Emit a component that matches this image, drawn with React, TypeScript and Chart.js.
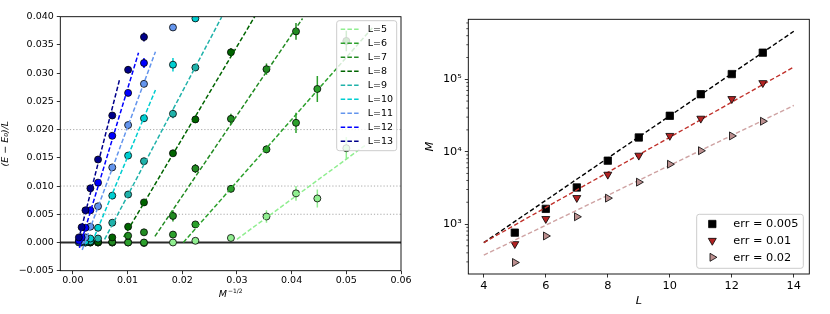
import React, { useEffect, useRef } from "react";
import { Chart, registerables } from "chart.js";

Chart.register(...registerables);

const FONT = "'DejaVu Sans', sans-serif";

// ---------------- Left panel: (E - E0)/L versus M^(-1/2) ----------------
const M_INV_SQRT = [0.0011, 0.0016, 0.0023, 0.0032, 0.0046, 0.0072, 0.0101, 0.013, 0.0183, 0.0224, 0.0289, 0.0354, 0.0408, 0.0447, 0.05];
const SYSTEM_SIZES = [5, 6, 7, 8, 9, 10, 11, 12, 13];
const SIZE_COLORS = ["#90ee90", "#2ca02c", "#228b22", "#006400", "#20b2aa", "#00ced1", "#6495ed", "#0000ff", "#00008b"];

const GAP_L5 = [null, null, null, null, null, 0.0, 0.0, -0.0001, 0.0, 0.0003, 0.0008, 0.0046, 0.0087, 0.0078, 0.0167];
const GAP_L6 = [null, null, null, null, 0.0, 0.0, 0.0, 0.0, 0.0014, 0.0032, 0.0095, 0.0165, 0.0212, 0.0272, 0.0357];
const GAP_L7 = [null, null, null, 0.0, 0.0, 0.0001, 0.0012, 0.0018, 0.0047, 0.0131, 0.0219, 0.0307, 0.0374, null, null];
const GAP_L8 = [null, null, 0.0, 0.0, 0.0001, 0.0009, 0.0028, 0.0071, 0.0158, 0.0218, 0.0337, null, null, null, null];
const GAP_L9 = [null, 0.0, 0.0, 0.0002, 0.0007, 0.0035, 0.0085, 0.0144, 0.0228, 0.031, null, null, null, null, null];
const GAP_L10 = [0.0, 0.0001, 0.0002, 0.0007, 0.0026, 0.0083, 0.0154, 0.022, 0.0315, 0.0397, null, null, null, null, null];
const GAP_L11 = [0.0001, 0.0002, 0.0009, 0.0028, 0.0064, 0.0133, 0.0208, 0.0281, 0.0381, null, null, null, null, null, null];
const GAP_L12 = [0.0003, 0.0009, 0.0026, 0.0057, 0.0106, 0.0189, 0.0265, 0.0318, null, null, null, null, null, null, null];
const GAP_L13 = [0.0009, 0.0027, 0.0057, 0.0096, 0.0147, 0.0225, 0.0306, 0.0364, null, null, null, null, null, null, null];

const ERR_L5 = [null, null, null, null, null, 0.0002, 0.0002, 0.0002, 0.0003, 0.0003, 0.0004, 0.0011, 0.0013, 0.0016, 0.002];
const ERR_L6 = [null, null, null, null, 0.0002, 0.0002, 0.0002, 0.0002, 0.0004, 0.0005, 0.0006, 0.0007, 0.0018, 0.0023, 0.0018];
const ERR_L7 = [null, null, null, 0.0002, 0.0002, 0.0002, 0.0003, 0.0003, 0.001, 0.0008, 0.0009, 0.001, 0.0015, null, null];
const ERR_L8 = [null, null, 0.0002, 0.0002, 0.0002, 0.0002, 0.0003, 0.0004, 0.0005, 0.0006, 0.0007, null, null, null, null];
const ERR_L9 = [null, 0.0002, 0.0002, 0.0002, 0.0002, 0.0003, 0.0003, 0.0004, 0.0008, 0.0006, null, null, null, null, null];
const ERR_L10 = [0.0002, 0.0002, 0.0002, 0.0002, 0.0003, 0.0003, 0.0004, 0.0006, 0.0012, 0.0006, null, null, null, null, null];
const ERR_L11 = [0.0002, 0.0002, 0.0002, 0.0002, 0.0003, 0.0003, 0.0004, 0.0004, 0.0003, null, null, null, null, null, null];
const ERR_L12 = [0.0002, 0.0002, 0.0002, 0.0003, 0.0003, 0.0004, 0.0005, 0.0009, null, null, null, null, null, null, null];
const ERR_L13 = [0.0002, 0.0002, 0.0003, 0.0003, 0.0004, 0.0004, 0.0006, 0.0008, null, null, null, null, null, null, null];

// linear fits y = slope * (x - x0), drawn over [from, to]
const FIT_SLOPE = [0.71, 1.1, 1.43, 1.63, 1.84, 2.33, 2.62, 3.2, 3.78];
const FIT_X0 = [0.0292, 0.0202, 0.01425, 0.0087, 0.0055, 0.0035, 0.0022, 0.0015, 0.0009];
const FIT_FROM = [0.03, 0.0202, 0.015, 0.0093, 0.0058, 0.004, 0.0017, 0.0012, 0.001];
const FIT_TO = [0.0537, 0.055, 0.042, 0.0333, 0.0272, 0.0151, 0.0151, 0.012, 0.0086];

const LEFT_X_TICKS = [0, 0.01, 0.02, 0.03, 0.04, 0.05, 0.06];
const LEFT_Y_TICKS = [-0.005, 0, 0.005, 0.01, 0.015, 0.02, 0.025, 0.03, 0.035, 0.04];
const REF_LINES = [0.005, 0.01, 0.02];

// ---------------- Right panel: M versus L ----------------
const R_SIZES = [5, 6, 7, 8, 9, 10, 11, 12, 13];
const M_ERR_005 = [760, 1620, 3200, 7500, 15700, 31300, 62200, 118000, 233000];
const M_ERR_01 = [531, 1180, 2300, 4830, 8850, 16600, 28700, 53600, 89000];
const M_ERR_02 = [294, 684, 1260, 2280, 3790, 6700, 10300, 16500, 26300];
const ERR_LABELS = ["err = 0.005", "err = 0.01", "err = 0.02"];
const FIT_LOG_INTERCEPT = [1.575, 1.773, 1.743];
const FIT_LOG_SLOPE = [0.292, 0.2426, 0.2068];
const FIT_L_SPAN = [4, 14];
const R_X_TICKS = [4, 6, 8, 10, 12, 14];
const R_Y_DECADES = [1000, 10000, 100000];
const R_Y_LABELS = ["10\u00b3", "10\u2074", "10\u2075"];

const GAPS = [GAP_L5, GAP_L6, GAP_L7, GAP_L8, GAP_L9, GAP_L10, GAP_L11, GAP_L12, GAP_L13];
const ERRS = [ERR_L5, ERR_L6, ERR_L7, ERR_L8, ERR_L9, ERR_L10, ERR_L11, ERR_L12, ERR_L13];

function fmtLeftY(v: number) {
  if (Math.abs(v) < 1e-12) return "0.000";
  return (v < 0 ? "\u2212" : "") + Math.abs(v).toFixed(3);
}

function clipArea(ctx: any, a: any) {
  ctx.beginPath();
  ctx.rect(a.left, a.top, a.right - a.left, a.bottom - a.top);
  ctx.clip();
}

const leftDecor = {
  id: "leftDecor",
  beforeDatasetsDraw(chart: any) {
    const { ctx, chartArea: a } = chart;
    const y = chart.scales.y;
    ctx.save();
    ctx.strokeStyle = "#a8a8a8";
    ctx.lineWidth = 1;
    ctx.setLineDash([1.2, 2]);
    REF_LINES.forEach((v) => {
      const py = y.getPixelForValue(v);
      ctx.beginPath();
      ctx.moveTo(a.left, py);
      ctx.lineTo(a.right, py);
      ctx.stroke();
    });
    ctx.setLineDash([]);
    ctx.strokeStyle = "#2a2a2a";
    ctx.lineWidth = 2;
    const p0 = y.getPixelForValue(0);
    ctx.beginPath();
    ctx.moveTo(a.left, p0);
    ctx.lineTo(a.right, p0);
    ctx.stroke();
    ctx.restore();
  },
  beforeDatasetDraw(chart: any, args: any) {
    const ds = chart.data.datasets[args.index];
    if (!ds.errors) return;
    const { ctx, chartArea: a } = chart;
    const xs = chart.scales.x;
    const ys = chart.scales.y;
    ctx.save();
    clipArea(ctx, a);
    ctx.strokeStyle = ds.errColor;
    ctx.lineWidth = 1.5;
    ds.data.forEach((p: any, k: number) => {
      const e = ds.errors[k];
      if (!e) return;
      const px = xs.getPixelForValue(p.x);
      ctx.beginPath();
      ctx.moveTo(px, ys.getPixelForValue(p.y - e));
      ctx.lineTo(px, ys.getPixelForValue(p.y + e));
      ctx.stroke();
    });
    ctx.restore();
  },
  afterDatasetsDraw(chart: any) {
    const { ctx, chartArea: a } = chart;
    ctx.save();
    ctx.strokeStyle = "#000";
    ctx.lineWidth = 0.9;
    ctx.strokeRect(a.left, a.top, a.right - a.left, a.bottom - a.top);
    ctx.restore();
  },
  afterDraw(chart: any) {
    const { ctx, chartArea: a } = chart;
    ctx.save();
    // legend
    const w = 60;
    const h = 130;
    const bx = a.right - 4.3 - w;
    const by = a.top + 4;
    ctx.beginPath();
    if (ctx.roundRect) ctx.roundRect(bx, by, w, h, 2.5);
    else ctx.rect(bx, by, w, h);
    ctx.fillStyle = "rgba(255,255,255,0.8)";
    ctx.fill();
    ctx.strokeStyle = "#cccccc";
    ctx.lineWidth = 1;
    ctx.stroke();
    ctx.font = `9.5px ${FONT}`;
    ctx.textBaseline = "middle";
    ctx.textAlign = "left";
    SYSTEM_SIZES.forEach((L, i) => {
      const ry = by + 8.6 + i * 14;
      ctx.strokeStyle = SIZE_COLORS[i];
      ctx.lineWidth = 1.5;
      ctx.setLineDash([4.5, 2.2]);
      ctx.beginPath();
      ctx.moveTo(bx + 4, ry);
      ctx.lineTo(bx + 24, ry);
      ctx.stroke();
      ctx.setLineDash([]);
      ctx.fillStyle = "#000";
      ctx.fillText(`L=${L}`, bx + 31, ry + 0.5);
    });
    // x title M^{-1/2}
    const main = "M";
    const sup = "\u22121/2";
    ctx.font = `italic 9.5px ${FONT}`;
    const wm = ctx.measureText(main).width;
    ctx.font = `6px ${FONT}`;
    const ws = ctx.measureText(sup).width;
    const cx = (a.left + a.right) / 2;
    const x0 = cx - (wm + ws + 1) / 2;
    const ty = 295;
    ctx.fillStyle = "#000";
    ctx.textBaseline = "middle";
    ctx.font = `italic 9.5px ${FONT}`;
    ctx.fillText(main, x0, ty);
    ctx.font = `6px ${FONT}`;
    ctx.fillText(sup, x0 + wm + 1, ty - 4);
    ctx.restore();
  },
};

function drawMarker(ctx: any, kind: string, x: number, y: number, r: number, fill: string) {
  ctx.beginPath();
  if (kind === "rect") {
    const s = Math.SQRT1_2 * r;
    ctx.rect(x - s, y - s, 2 * s, 2 * s);
  } else if (kind === "down") {
    const k = r * Math.sin(Math.PI / 3);
    ctx.moveTo(x, y + r);
    ctx.lineTo(x - k, y - r / 2);
    ctx.lineTo(x + k, y - r / 2);
    ctx.closePath();
  } else {
    const k = r * Math.sin(Math.PI / 3);
    ctx.moveTo(x + r, y);
    ctx.lineTo(x - r / 2, y - k);
    ctx.lineTo(x - r / 2, y + k);
    ctx.closePath();
  }
  ctx.fillStyle = fill;
  ctx.fill();
  ctx.strokeStyle = "#000";
  ctx.lineWidth = 0.8;
  ctx.stroke();
}

const MARKER_KINDS = ["rect", "down", "right"];
const MARKER_FILLS = ["#000000", "#b22222", "#bc8f8f"];
const LINE_COLORS = ["#000000", "#c0302a", "#cfa3a3"];
const MARKER_RADII = [5.2, 4.6, 4.6];

const rightDecor = {
  id: "rightDecor",
  afterDatasetsDraw(chart: any) {
    const { ctx, chartArea: a } = chart;
    const y = chart.scales.y;
    ctx.save();
    ctx.strokeStyle = "#000";
    ctx.lineWidth = 0.9;
    ctx.strokeRect(a.left, a.top, a.right - a.left, a.bottom - a.top);
    // minor ticks on log axis
    ctx.lineWidth = 0.7;
    y.ticks.forEach((t: any) => {
      if (R_Y_DECADES.includes(t.value)) return;
      const py = y.getPixelForValue(t.value);
      if (py < a.top || py > a.bottom) return;
      ctx.beginPath();
      ctx.moveTo(a.left, py);
      ctx.lineTo(a.left - 2, py);
      ctx.stroke();
    });
    ctx.restore();
  },
  afterDraw(chart: any) {
    const { ctx, chartArea: a } = chart;
    ctx.save();
    const w = 106.6;
    const h = 54;
    const bx = a.right - 6 - w;
    const by = a.bottom - 5.7 - h;
    ctx.beginPath();
    if (ctx.roundRect) ctx.roundRect(bx, by, w, h, 2.5);
    else ctx.rect(bx, by, w, h);
    ctx.fillStyle = "rgba(255,255,255,0.8)";
    ctx.fill();
    ctx.strokeStyle = "#cccccc";
    ctx.lineWidth = 1;
    ctx.stroke();
    ctx.font = `11.3px ${FONT}`;
    ctx.textBaseline = "middle";
    ctx.textAlign = "left";
    ERR_LABELS.forEach((lab, i) => {
      const ry = by + 9.7 + i * 16.65;
      drawMarker(ctx, MARKER_KINDS[i], bx + 15.6, ry, MARKER_RADII[i], MARKER_FILLS[i]);
      ctx.fillStyle = "#000";
      ctx.fillText(lab, bx + 36.6, ry + 0.5);
    });
    ctx.restore();
  },
};

function leftConfig(): any {
  const datasets: any[] = [];
  SYSTEM_SIZES.forEach((L, i) => {
    const pts: any[] = [];
    const errs: any[] = [];
    M_INV_SQRT.forEach((x, j) => {
      const v = GAPS[i][j];
      if (v === null || v === undefined) return;
      pts.push({ x, y: v });
      errs.push(ERRS[i][j]);
    });
    datasets.push({
      type: "scatter",
      label: `L=${L}`,
      data: pts,
      errors: errs,
      errColor: SIZE_COLORS[i],
      pointStyle: "circle",
      pointRadius: 3.5,
      pointBackgroundColor: SIZE_COLORS[i],
      pointBorderColor: "#000",
      pointBorderWidth: 0.8,
      order: 100 - 2 * i,
    });
    const yAt = (x: number) => FIT_SLOPE[i] * (x - FIT_X0[i]);
    datasets.push({
      type: "line",
      label: `fit L=${L}`,
      data: [
        { x: FIT_FROM[i], y: yAt(FIT_FROM[i]) },
        { x: FIT_TO[i], y: yAt(FIT_TO[i]) },
      ],
      borderColor: SIZE_COLORS[i],
      borderWidth: 1.5,
      borderDash: [4.5, 2.2],
      pointRadius: 0,
      fill: false,
      tension: 0,
      order: 99 - 2 * i,
    });
  });
  const tickFont = { family: FONT, size: 9.5 };
  return {
    type: "scatter",
    data: { datasets },
    options: {
      responsive: false,
      animation: false,
      events: [],
      layout: { padding: { left: 0, top: 16.7, right: 19, bottom: 0 } },
      plugins: { legend: { display: false }, tooltip: { enabled: false } },
      scales: {
        x: {
          type: "linear",
          min: -0.0023,
          max: 0.06,
          afterBuildTicks: (s: any) => {
            s.ticks = LEFT_X_TICKS.map((v) => ({ value: v }));
          },
          afterFit: (s: any) => {
            s.height = 43.3;
          },
          ticks: {
            callback: (v: any) => Number(v).toFixed(2),
            font: tickFont,
            color: "#000",
            padding: 0.5,
            maxRotation: 0,
            autoSkip: false,
          },
          grid: { display: true, drawOnChartArea: false, drawTicks: true, tickLength: 3.5, tickColor: "#000", tickWidth: 0.8 },
          border: { display: false },
        },
        y: {
          type: "linear",
          min: -0.005,
          max: 0.04,
          afterBuildTicks: (s: any) => {
            s.ticks = LEFT_Y_TICKS.map((v) => ({ value: v }));
          },
          afterFit: (s: any) => {
            s.width = 60.3;
          },
          ticks: {
            callback: (v: any) => fmtLeftY(Number(v)),
            font: tickFont,
            color: "#000",
            padding: 3,
            autoSkip: false,
          },
          grid: { display: true, drawOnChartArea: false, drawTicks: true, tickLength: 3.5, tickColor: "#000", tickWidth: 0.8 },
          border: { display: false },
          title: {
            display: true,
            text: "(E \u2212 E\u2080)/L",
            font: { family: FONT, size: 9.5, style: "italic" },
            color: "#000",
            padding: 0,
          },
        },
      },
    },
    plugins: [leftDecor],
  };
}

function rightConfig(): any {
  const series = [M_ERR_005, M_ERR_01, M_ERR_02];
  const rotations = [0, 180, 90];
  const styles = ["rect", "triangle", "triangle"];
  const datasets: any[] = [];
  series.forEach((ms, i) => {
    datasets.push({
      type: "scatter",
      label: ERR_LABELS[i],
      data: R_SIZES.map((L, j) => ({ x: L, y: ms[j] })),
      pointStyle: styles[i],
      pointRotation: rotations[i],
      pointRadius: MARKER_RADII[i],
      pointBackgroundColor: MARKER_FILLS[i],
      pointBorderColor: "#000",
      pointBorderWidth: 0.8,
      order: 20 - 2 * i,
    });
    datasets.push({
      type: "line",
      label: `fit ${ERR_LABELS[i]}`,
      data: FIT_L_SPAN.map((L) => ({ x: L, y: Math.pow(10, FIT_LOG_INTERCEPT[i] + FIT_LOG_SLOPE[i] * L) })),
      borderColor: LINE_COLORS[i],
      borderWidth: 1.4,
      borderDash: [4.5, 2.5],
      pointRadius: 0,
      fill: false,
      tension: 0,
      order: 21 - 2 * i,
    });
  });
  const tickFont = { family: FONT, size: 11.3 };
  const yTicks: number[] = [];
  [100, 1000, 10000, 100000].forEach((d) => {
    for (let k = 1; k <= 9; k++) {
      const v = d * k;
      if (v >= 204 && v <= 674000) yTicks.push(v);
    }
  });
  return {
    type: "scatter",
    data: { datasets },
    options: {
      responsive: false,
      animation: false,
      events: [],
      layout: { padding: { left: 0, top: 19.3, right: 20.7, bottom: 0 } },
      plugins: { legend: { display: false }, tooltip: { enabled: false } },
      scales: {
        x: {
          type: "linear",
          min: 3.5,
          max: 14.5,
          afterBuildTicks: (s: any) => {
            s.ticks = R_X_TICKS.map((v) => ({ value: v }));
          },
          afterFit: (s: any) => {
            s.height = 40;
          },
          ticks: { callback: (v: any) => String(v), font: tickFont, color: "#000", padding: 1.7, maxRotation: 0, autoSkip: false },
          grid: { display: true, drawOnChartArea: false, drawTicks: true, tickLength: 3.5, tickColor: "#000", tickWidth: 0.8 },
          border: { display: false },
          title: {
            display: true,
            text: "L",
            font: { family: FONT, size: 11.3, style: "italic" },
            color: "#000",
            padding: { top: 0, bottom: 6.5 },
          },
        },
        y: {
          type: "logarithmic",
          min: 204,
          max: 674000,
          afterBuildTicks: (s: any) => {
            s.ticks = yTicks.map((v) => ({ value: v, major: R_Y_DECADES.includes(v) }));
          },
          afterFit: (s: any) => {
            s.width = 48.3;
          },
          ticks: {
            callback: (v: any) => {
              const k = R_Y_DECADES.indexOf(Number(v));
              return k >= 0 ? R_Y_LABELS[k] : "";
            },
            font: tickFont,
            color: "#000",
            padding: 3,
            autoSkip: false,
          },
          grid: {
            display: true,
            drawOnChartArea: false,
            drawTicks: true,
            tickLength: 3.5,
            tickWidth: 0.8,
            tickColor: (c: any) => (c.tick && R_Y_DECADES.includes(c.tick.value) ? "#000" : "rgba(0,0,0,0)"),
          },
          border: { display: false },
          title: {
            display: true,
            text: "M",
            font: { family: FONT, size: 11.3, style: "italic" },
            color: "#000",
            padding: { top: 3.2, bottom: 0 },
          },
        },
      },
    },
    plugins: [rightDecor],
  };
}

export default function App() {
  const leftRef = useRef<HTMLCanvasElement | null>(null);
  const rightRef = useRef<HTMLCanvasElement | null>(null);
  useEffect(() => {
    const c1 = new Chart(leftRef.current as HTMLCanvasElement, leftConfig());
    const c2 = new Chart(rightRef.current as HTMLCanvasElement, rightConfig());
    return () => {
      c1.destroy();
      c2.destroy();
    };
  }, []);
  return (
    <div style={{ position: "fixed", left: 0, top: 0, width: 830, height: 314, background: "#fff" }}>
      <canvas ref={leftRef} width={420} height={314} style={{ position: "absolute", left: 0, top: 0, width: 420, height: 314 }} />
      <canvas ref={rightRef} width={410} height={314} style={{ position: "absolute", left: 420, top: 0, width: 410, height: 314 }} />
    </div>
  );
}
